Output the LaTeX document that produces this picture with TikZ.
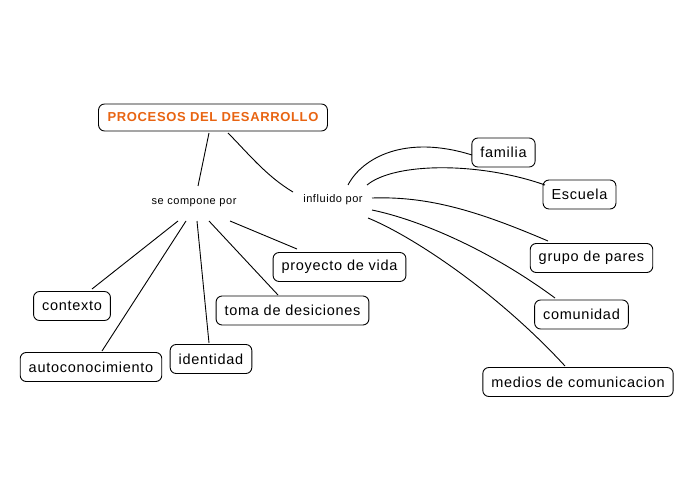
\documentclass[tikz,border=0pt]{standalone}
\usepackage{fontspec}
\setmainfont{Liberation Sans}[LetterSpace=5]
\usetikzlibrary{calc}
\definecolor{titleorange}{RGB}{232,100,18}
\tikzset{
  box/.style={draw=black, line width=0.9pt, rounded corners=6pt, inner xsep=8.5pt, inner ysep=0pt, minimum height=29pt, font=\fontsize{14.5}{17}\selectfont},
  titlebox/.style={box, minimum height=27pt, inner xsep=9pt, text=titleorange, font=\fontsize{13}{15}\selectfont\bfseries},
  lbl/.style={inner sep=0pt, font=\fontsize{11}{13}\selectfont},
  link/.style={draw=black, line width=0.9pt}
}
\begin{document}
\begin{tikzpicture}[x=1pt,y=-1pt]
\useasboundingbox (0,0) rectangle (696,500);
\node[titlebox] (pd) at (213,117.5) {PROCESOS DEL DESARROLLO};
\node[lbl] (sc) at (194,203) {se compone por};
\node[lbl] (inf) at (333,200) {influido por};
\node[box] (fam) at (503.5,152.5) {familia};
\node[box] (esc) at (579.5,194.5) {Escuela};
\node[box] (gru) at (591.5,258) {grupo de pares};
\node[box] (com) at (581.5,314.5) {comunidad};
\node[box] (med) at (578,382) {medios de comunicacion};
\node[box] (pro) at (339.5,267) {proyecto de vida};
\node[box] (tom) at (292.5,310.5) {toma de desiciones};
\node[box] (ctx) at (72,306) {contexto};
\node[box] (aut) at (91,367) {autoconocimiento};
\node[box] (ide) at (211,359) {identidad};
% se compone por
\draw[link] ($(pd.center)+(-4,15.5)$) -- ($(sc.center)+(4,-17)$);
\draw[link] ($(sc.center)+(-16,18)$) -- ($(ctx.center)+(20,-17)$);
\draw[link] ($(sc.center)+(-8,18)$) -- ($(aut.center)+(11,-16)$);
\draw[link] ($(sc.center)+(3,18)$) -- ($(ide.center)+(-2,-16)$);
\draw[link] ($(sc.center)+(15,18)$) -- ($(tom.center)+(-14.5,-15.5)$);
\draw[link] ($(sc.center)+(36,18)$) -- ($(pro.center)+(-42.5,-18)$);
% influido por
\draw[link] ($(pd.center)+(15,15.5)$) .. controls (247,152) and (266,176) .. ($(inf.center)+(-40,-8)$);
\draw[link] ($(inf.center)+(15,-15)$) .. controls (362,158) and (405,134) .. ($(fam.center)+(-31.5,2.5)$);
\draw[link] ($(inf.center)+(34,-15)$) .. controls (395,162) and (480,162) .. ($(esc.center)+(-34.5,-9.5)$);
\draw[link] ($(inf.center)+(39,-2)$) .. controls (430,196) and (480,212) .. ($(gru.center)+(-43.5,-17)$);
\draw[link] ($(inf.center)+(39,10)$) .. controls (420,220) and (490,250) .. ($(com.center)+(-26.5,-16.5)$);
\draw[link] ($(inf.center)+(35,18)$) .. controls (410,235) and (495,290) .. ($(med.center)+(-13,-16)$);
\end{tikzpicture}
\end{document}
